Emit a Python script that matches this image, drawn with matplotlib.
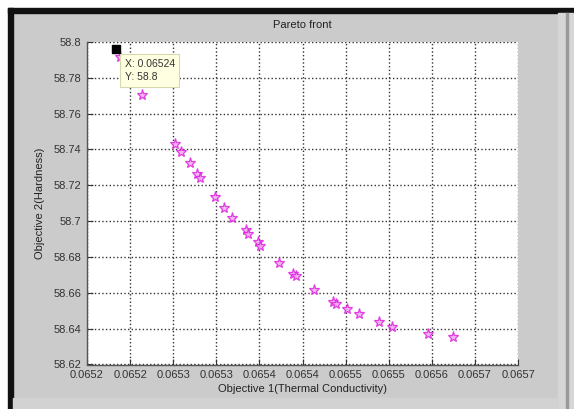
import matplotlib
matplotlib.use("Agg")
import matplotlib.pyplot as plt
from matplotlib.patches import Rectangle

plt.rc('font', family='Liberation Sans', size=8)

# Pareto front data (objective 1, objective 2)
obj1 = [0.065238, 0.065264, 0.065302, 0.065309, 0.065319, 0.065328, 0.065331,
        0.065349, 0.065359, 0.065368, 0.065384, 0.065387, 0.065398, 0.065401,
        0.065423, 0.065439, 0.065442, 0.065463, 0.065485, 0.065489, 0.065502,
        0.065515, 0.065539, 0.065554, 0.065596, 0.065625]
obj2 = [58.7915, 58.7704, 58.7433, 58.7388, 58.7324, 58.7265, 58.7243,
        58.7134, 58.7075, 58.7019, 58.6949, 58.6927, 58.6885, 58.6862,
        58.6765, 58.6706, 58.6695, 58.6614, 58.6549, 58.6538, 58.6510,
        58.6482, 58.6435, 58.6407, 58.6368, 58.6354]

# data tip
tip_x = 0.065234
tip_y = 58.7962
tip_text = "X: 0.06524\nY: 58.8"

xticks = [0.06520, 0.06525, 0.06530, 0.06535, 0.06540, 0.06545,
          0.06550, 0.06555, 0.06560, 0.06565, 0.06570]
xticklabels = ["0.0652", "0.0652", "0.0653", "0.0653", "0.0654", "0.0654",
               "0.0655", "0.0655", "0.0656", "0.0657", "0.0657"]
yticks = [58.62, 58.64, 58.66, 58.68, 58.70, 58.72, 58.74, 58.76, 58.78, 58.80]
yticklabels = ["58.62", "58.64", "58.66", "58.68", "58.7", "58.72",
               "58.74", "58.76", "58.78", "58.8"]

W, H = 574, 409
fig = plt.figure(figsize=(W / 100, H / 100), dpi=100)
fig.patch.set_facecolor("#cbcbcb")

# window decoration of the screenshot
def px_rect(x0, y0, x1, y1, color):
    fig.patches.append(Rectangle((x0 / W, 1 - y1 / H), (x1 - x0) / W, (y1 - y0) / H,
                                 transform=fig.transFigure, color=color, zorder=-1))

px_rect(0, 0, W, 8, "white")
px_rect(0, 0, 8, H, "white")
px_rect(8, 8, W, 13, "#111111")
px_rect(8, 8, 13, H, "#111111")
px_rect(558, 13, W, H, "#d6d6d6")
px_rect(566, 13, 568, H, "#9a9a9a")
px_rect(13, 398, 558, H, "#d2d2d2")

ax = fig.add_axes([87 / W, 1 - 364.5 / H, (518 - 87) / W, (364.5 - 42) / H])
ax.set_facecolor("white")

ax.plot(obj1, obj2, linestyle="none", marker="*", markersize=8,
        markerfacecolor="#f2a8f2", markeredgecolor="#dd22dd",
        markeredgewidth=0.9, alpha=0.85, zorder=3)

# data tip marker and box
ax.plot([tip_x], [tip_y], marker="s", markersize=6, color="black",
        linestyle="none", zorder=5)
ax.annotate(tip_text, xy=(tip_x, tip_y), xytext=(6, -7),
            textcoords="offset points", va="top", ha="left", fontsize=7.5,
            color="#333333", linespacing=1.45, zorder=6,
            bbox=dict(boxstyle="square,pad=0.45", facecolor="#ffffe1",
                      edgecolor="#d8d8b0", linewidth=0.8))

ax.set_xlim(xticks[0], xticks[-1])
ax.set_ylim(yticks[0], yticks[-1])
ax.set_xticks(xticks)
ax.set_xticklabels(xticklabels)
ax.set_yticks(yticks)
ax.set_yticklabels(yticklabels)
ax.tick_params(direction="in", length=4, width=0.8, colors="#333333",
               labelcolor="#333333", labelsize=8)
ax.tick_params(axis="x", pad=4)
ax.tick_params(axis="y", pad=4)

ax.grid(True, linestyle=":", color="#333333", linewidth=1.0)
ax.set_axisbelow(True)
for side in ["top", "right"]:
    ax.spines[side].set_visible(False)
for side in ["left", "bottom"]:
    ax.spines[side].set_color("#555555")
    ax.spines[side].set_linewidth(1.0)

ax.set_title("Pareto front", fontsize=8, color="#222222", pad=10)
ax.set_xlabel("Objective 1(Thermal Conductivity)", fontsize=8, color="#222222",
              labelpad=3)
ax.set_ylabel("Objective 2(Hardness)", fontsize=8, color="#222222", labelpad=6)

fig.savefig("out.png", dpi=100, facecolor=fig.get_facecolor())
